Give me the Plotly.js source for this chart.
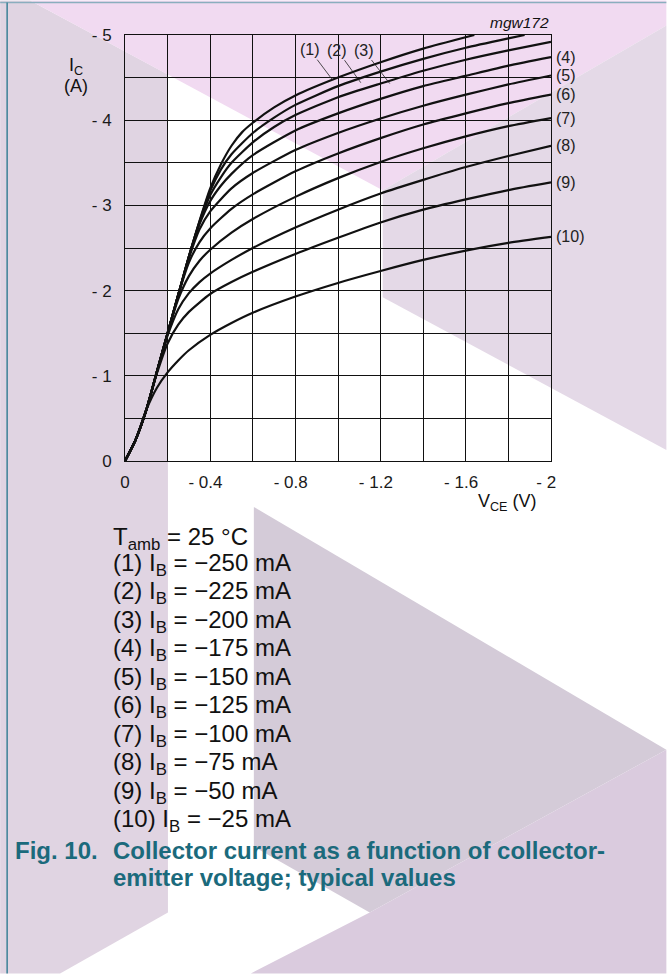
<!DOCTYPE html>
<html><head><meta charset="utf-8">
<script src="https://cdn.plot.ly/plotly-3.0.1.min.js"></script>
<style>html,body{margin:0;padding:0;background:#fff}#chart{width:667px;height:974px}</style>
</head><body><div id="chart"></div>
<script>
const curveLabels = ["(1)","(2)","(3)","(4)","(5)","(6)","(7)","(8)","(9)","(10)"];
const ibValues = [-250,-225,-200,-175,-150,-125,-100,-75,-50,-25];

const vce1 = [0,0.05,0.1,0.15,0.2,0.25,0.3,0.35,0.4,0.45,0.5,0.55,0.6,0.7,0.8,1.0,1.2,1.4,1.64];
const ic1  = [0,0.25,0.6,1.05,1.5,1.95,2.4,2.82,3.2,3.48,3.7,3.86,3.97,4.15,4.29,4.5,4.68,4.84,5.0];
const vce2 = [0,0.05,0.1,0.15,0.2,0.25,0.3,0.35,0.4,0.45,0.5,0.6,0.7,0.8,1.0,1.2,1.4,1.6,1.8,1.876];
const ic2  = [0,0.25,0.6,1.05,1.5,1.95,2.4,2.81,3.17,3.42,3.6,3.85,4.03,4.18,4.4,4.57,4.72,4.85,4.96,5.0];
const vce3 = [0,0.05,0.1,0.15,0.2,0.25,0.3,0.35,0.4,0.45,0.5,0.6,0.7,0.8,1.0,1.2,1.4,1.6,1.8,2.0];
const ic3  = [0,0.25,0.6,1.05,1.5,1.95,2.4,2.8,3.12,3.33,3.5,3.74,3.92,4.06,4.27,4.43,4.58,4.71,4.82,4.92];
const vce4 = [0,0.05,0.1,0.15,0.2,0.25,0.3,0.35,0.4,0.45,0.5,0.6,0.8,1.0,1.2,1.4,1.6,1.8,2.0];
const ic4  = [0,0.25,0.6,1.05,1.5,1.95,2.4,2.78,3.05,3.23,3.37,3.59,3.88,4.08,4.25,4.4,4.52,4.64,4.74];
const vce5 = [0,0.05,0.1,0.15,0.2,0.25,0.3,0.35,0.4,0.5,0.6,0.8,1.0,1.2,1.4,1.6,1.8,2.0];
const ic5  = [0,0.25,0.6,1.05,1.5,1.95,2.38,2.72,2.93,3.2,3.38,3.65,3.85,4.02,4.17,4.3,4.42,4.525];
const vce6 = [0,0.05,0.1,0.15,0.2,0.25,0.3,0.35,0.4,0.5,0.6,0.8,1.0,1.2,1.4,1.6,1.8,2.0];
const ic6  = [0,0.25,0.6,1.05,1.5,1.95,2.33,2.57,2.73,2.96,3.13,3.4,3.61,3.79,3.95,4.08,4.2,4.3];
const vce7 = [0,0.05,0.1,0.15,0.2,0.25,0.3,0.35,0.4,0.5,0.6,0.8,1.0,1.2,1.4,1.6,1.8,2.0];
const ic7  = [0,0.25,0.6,1.05,1.5,1.9,2.17,2.35,2.48,2.68,2.84,3.1,3.32,3.51,3.67,3.81,3.93,4.025];
const vce8 = [0,0.05,0.1,0.15,0.2,0.25,0.3,0.35,0.4,0.5,0.6,0.8,1.0,1.2,1.4,1.6,1.8,2.0];
const ic8  = [0,0.25,0.6,1.05,1.47,1.78,1.97,2.1,2.2,2.36,2.5,2.74,2.95,3.14,3.3,3.45,3.58,3.7];
const vce9 = [0,0.05,0.1,0.15,0.2,0.25,0.3,0.4,0.5,0.6,0.8,1.0,1.2,1.4,1.6,1.8,2.0];
const ic9  = [0,0.25,0.6,1.03,1.38,1.6,1.75,1.96,2.1,2.22,2.43,2.62,2.8,2.95,3.07,3.18,3.27];
const vce10 = [0,0.05,0.1,0.15,0.2,0.25,0.3,0.4,0.5,0.6,0.8,1.0,1.2,1.4,1.6,1.8,2.0];
const ic10  = [0,0.25,0.6,0.86,1.04,1.18,1.3,1.48,1.62,1.74,1.93,2.09,2.23,2.36,2.47,2.56,2.63];

// leader-line tips on curves (1)-(3)
const leaderV = [0.975, 1.107, 1.243];
const leaderI = [4.47, 4.44, 4.43];

const xTickVals = [0,0.2,0.4,0.6,0.8,1.0,1.2,1.4,1.6,1.8,2.0];
const xTickText = ["0","","- 0.4","","- 0.8","","- 1.2","","- 1.6","","- 2"];
const yTickVals = [0,0.5,1,1.5,2,2.5,3,3.5,4,4.5,5];
const yTickText = ["0","","- 1","","- 2","","- 3","","- 4","","- 5"];

const curvesV = [vce1,vce2,vce3,vce4,vce5,vce6,vce7,vce8,vce9,vce10];
const curvesI = [ic1,ic2,ic3,ic4,ic5,ic6,ic7,ic8,ic9,ic10];

const neg = a => a.map(v => -v);
const FONT = "Liberation Sans, Arial, Helvetica, sans-serif";

const traces = curvesV.map((v,i) => ({
  x: neg(v), y: neg(curvesI[i]), type: "scatter", mode: "lines",
  line: {color: "#111", width: 2.2, shape: "spline", smoothing: 0.6},
  hoverinfo: "skip", showlegend: false
}));

// layout geometry (pixels)
const L = 125, T = 34.5, W = 426.5, H = 426.5;
const PW = 667, PH = 974;
const px = x => (x - L) / W;
const py = y => (T + H - y) / H;
const poly = pts => "M" + pts.map(p => px(p[0]) + "," + py(p[1])).join("L") + "Z";

const bg = [
  {pts: [[0,0],[30,0],[168,74],[168,913],[60,974],[0,974]], c: "#e0d4e2"},
  {pts: [[30,0],[667,0],[667,25],[383,190]], c: "#f1daf1"},
  {pts: [[383,190],[667,25],[667,450],[383,297]], c: "#e4d9e7"},
  {pts: [[254,507],[667,750],[370,913],[254,847]], c: "#d4cbd8"},
  {pts: [[370,913],[667,750],[667,974],[251,974]], c: "#dacbde"}
];
const shapes = bg.map(s => ({
  type: "path", xref: "paper", yref: "paper", path: poly(s.pts),
  fillcolor: s.c, line: {width: 0}, layer: "below"
}));
shapes.push({type: "line", xref: "paper", yref: "paper", x0: px(0), x1: px(667), y0: py(2), y1: py(2), line: {color: "#8aaebe", width: 1.5}});
shapes.push({type: "line", xref: "paper", yref: "paper", x0: px(7), x1: px(7), y0: py(2), y1: py(974), line: {color: "#3b8196", width: 1.5}});

const ann = [];
const txt = (text, x, y, opts) => ann.push(Object.assign({
  text, xref: "paper", yref: "paper", x: px(x), y: py(y), showarrow: false,
  xanchor: "left", yanchor: "middle", font: {family: FONT, size: 18, color: "#111"}
}, opts || {}));

// axis titles
txt("I<sub>C</sub>", 76, 66, {xanchor: "center"});
txt("(A)", 76, 86, {xanchor: "center"});
txt("V<sub>CE</sub> (V)", 508, 503, {xanchor: "center"});
txt("<i>mgw172</i>", 551, 22, {xanchor: "right", font: {family: FONT, size: 15.5, color: "#111"}});

// curve labels (1)-(3) with leader lines
const labelDx = [-23, -23.5, -26];
const labelDy = [-30.5, -32.5, -33.5];
for (let i = 0; i < 3; i++) {
  ann.push({
    text: curveLabels[i], x: -leaderV[i], y: -leaderI[i], xref: "x", yref: "y",
    showarrow: true, arrowhead: 0, arrowwidth: 0.8, arrowcolor: "#222",
    ax: labelDx[i], ay: labelDy[i], font: {family: FONT, size: 16, color: "#222"}
  });
}
// curve labels (4)-(10) at curve ends
for (let i = 3; i < 10; i++) {
  const v = curvesV[i], c = curvesI[i];
  ann.push({
    text: curveLabels[i], x: -v[v.length-1], y: -c[c.length-1], xref: "x", yref: "y",
    showarrow: false, xanchor: "left", yanchor: "middle", xshift: 3,
    font: {family: FONT, size: 16, color: "#222"}
  });
}

// conditions block
const LEG_X = 111, LEG_Y0 = 536, LEG_DY = 28.5;
const LEGF = {family: FONT, size: 24, color: "#111"};
txt("T<sub>amb</sub> = 25 °C", LEG_X, LEG_Y0 + 3, {font: LEGF});
ibValues.forEach((ib, i) => {
  txt(curveLabels[i] + " I<sub>B</sub> = \u2212" + Math.abs(ib) + " mA", LEG_X, LEG_Y0 + LEG_DY * (i + 1), {font: LEGF});
});

// caption
const CAP = {family: FONT, size: 24, color: "#1b6a7c"};
txt("<b>Fig. 10.</b>", 13, 851, {font: CAP});
txt("<b>Collector current as a function of collector-</b>", 111, 851, {font: CAP});
txt("<b>emitter voltage; typical values</b>", 111, 878, {font: CAP});

const axCommon = {
  showgrid: true, gridcolor: "#111111", gridwidth: 1,
  showline: true, mirror: true, linecolor: "#111111", linewidth: 1,
  zeroline: false, ticks: "", tickmode: "array", fixedrange: true,
  tickfont: {family: FONT, size: 17, color: "#1a1a1a"}
};

const layout = {
  width: PW, height: PH,
  margin: {l: L, r: PW - L - W, t: T, b: PH - T - H},
  paper_bgcolor: "#ffffff", plot_bgcolor: "rgba(0,0,0,0)",
  xaxis: Object.assign({}, axCommon, {range: [0, -2], tickvals: neg(xTickVals),
    ticktext: xTickText.map(s => s.startsWith("-") ? s + "\u00a0\u00a0" : s), ticklabelstandoff: 6}),
  yaxis: Object.assign({}, axCommon, {range: [0, -5], tickvals: neg(yTickVals),
    ticktext: yTickText, ticklabelstandoff: 9}),
  shapes, annotations: ann, showlegend: false
};

Plotly.newPlot("chart", traces, layout, {staticPlot: true, displayModeBar: false});
</script></body></html>
